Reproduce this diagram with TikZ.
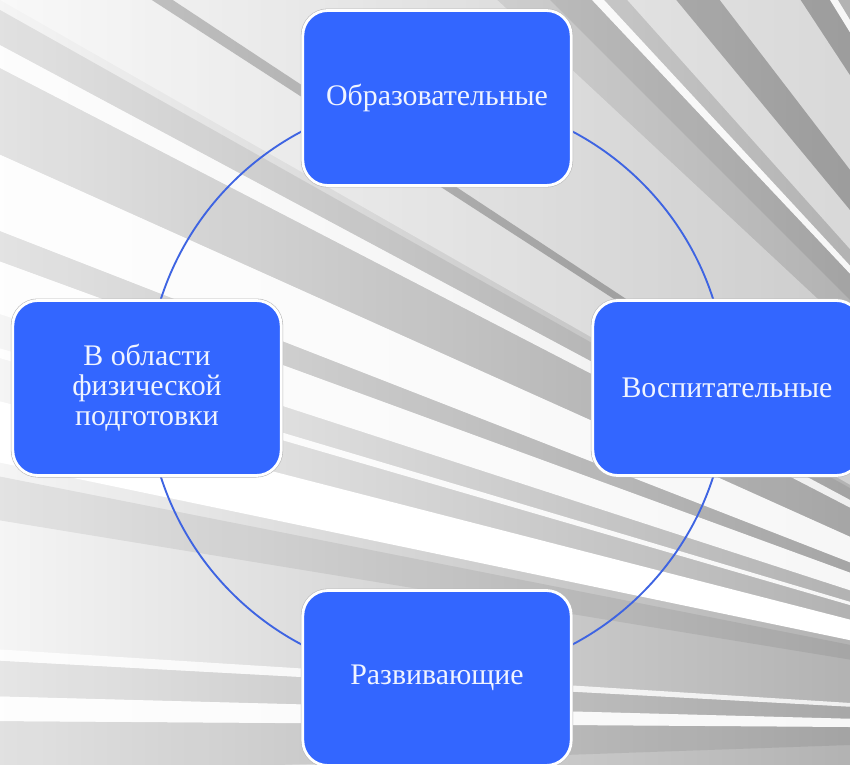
\documentclass[tikz,border=0pt]{standalone}
\usepackage{fontspec}
\setmainfont{Liberation Serif}
\usetikzlibrary{calc}
\definecolor{boxblue}{RGB}{51,102,255}
\definecolor{ringblue}{RGB}{62,100,226}
\definecolor{boxtext}{RGB}{240,244,255}
\definecolor{bgleft}{gray}{0.96}
\definecolor{bgmid}{gray}{0.91}
\definecolor{bgright}{gray}{0.70}
\tikzset{
  goalbox/.style={draw=white, line width=2.4pt, fill=boxblue, rounded corners=0.75cm,
    minimum width=8.05cm, minimum height=5.25cm, align=center, text=boxtext,
    font=\fontsize{25.5}{25.5}\selectfont,
    preaction={draw=gray!55, line width=3.4pt}},
  lightray/.style={fill=white, fill opacity=#1},
  darkray/.style={fill=black, fill opacity=#1}
}
\begin{document}
\begin{tikzpicture}[x=0.03cm, y=-0.03cm]
  \useasboundingbox (0,0) rectangle (850,764);
  % background with rays
  \begin{scope}
    \clip (0,0) rectangle (850,764);
    \shade[left color=bgleft, middle color=bgmid, right color=bgright] (0,0) rectangle (850,764);
    \coordinate (P) at (1280,730);
    \foreach \a/\b/\o in {146.6/147.1/0.18, 150.64/151.85/0.08, 152.65/155.8/0.07,
        158.7/159.9/0.07, 127.5/129.6/0.12, 121.65/123.3/0.12, 133.3/135/0.08,
        168.8/170.7/0.07, 176.9/178.5/0.06, 179.6/182/0.08}
      \fill[darkray=\o] (P) -- ($(P)+(-\a:3000)$) -- ($(P)+(-\b:3000)$) -- cycle;
    \foreach \a/\b/\o in {121.2/121.65/0.9, 123.3/127.5/0.5, 129.6/131.8/0.5,
        132.8/133.3/0.9, 137/146.6/0.35, 147.1/150.3/0.4, 151.85/152.65/0.8,
        155.8/158.7/0.9, 159.9/162.0/0.9, 163.4/163.8/0.9, 165.6/168.2/1,
        176.4/176.9/0.8, 178.5/179.6/0.9}
      \fill[lightray=\o] (P) -- ($(P)+(-\a:3000)$) -- ($(P)+(-\b:3000)$) -- cycle;
  \end{scope}
  % ring and boxes
  \coordinate (c) at (437,388);
  \draw[ringblue, line width=1.6pt] (c) circle[radius=8.7cm];
  \node[goalbox] (obraz) at ($(c)+(0,-290)$) {Образовательные};
  \node[goalbox] (vosp) at ($(c)+(290,0)$) {Воспитательные};
  \node[goalbox] (razv) at ($(c)+(0,290)$) {Развивающие};
  \node[goalbox] (fiz) at ($(c)+(-290,0)$) {В области\\физической\\подготовки};
\end{tikzpicture}
\end{document}
